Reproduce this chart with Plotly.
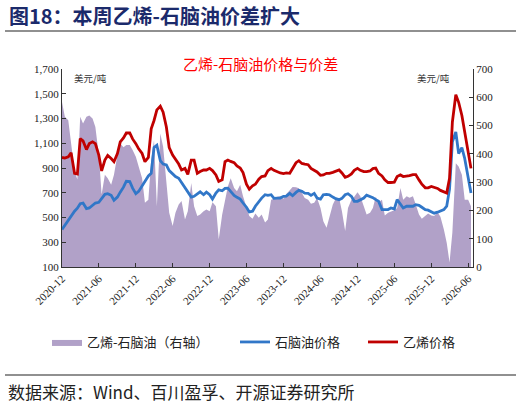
import pandas as pd
import plotly.graph_objects as go

# semi-monthly observation dates (1st and 15th of each month)
dates = pd.date_range("2020-12-01", periods=134, freq="SMS")

ethylene = [985, 980, 991, 1023, 857, 852, 1137, 1119, 1049, 1097, 1111, 1097, 1004, 876, 964, 1001,
            977, 951, 1017, 1111, 1143, 1183, 1183, 1135, 1097, 1055, 1017, 951, 985, 1217, 1284, 1370,
            1399, 1351, 1231, 1065, 1004, 969, 932, 884, 897, 849, 964, 964, 857, 871, 884, 884,
            897, 879, 844, 791, 804, 951, 964, 953, 943, 916, 900, 863, 769, 729, 756, 769,
            809, 831, 836, 879, 897, 881, 868, 860, 855, 860, 857, 892, 943, 959, 937, 932,
            927, 897, 881, 868, 841, 844, 857, 857, 865, 876, 884, 860, 825, 833, 852, 881,
            897, 881, 871, 871, 876, 895, 900, 857, 836, 804, 783, 783, 785, 831, 844, 831,
            833, 839, 847, 847, 804, 769, 740, 740, 751, 745, 735, 719, 705, 697, 817, 1271,
            1492, 1431, 1324, 1191, 1044, 897]

naphtha = [404, 439, 476, 511, 551, 575, 612, 617, 572, 577, 596, 617, 623, 649, 687, 692,
           679, 639, 665, 705, 745, 793, 791, 737, 692, 711, 756, 799, 836, 857, 1065, 1084,
           959, 932, 924, 879, 852, 831, 817, 783, 751, 716, 665, 671, 689, 708, 684, 705,
           684, 649, 697, 724, 716, 735, 737, 708, 679, 663, 649, 617, 583, 545, 551, 591,
           633, 657, 684, 679, 684, 655, 657, 657, 671, 673, 695, 676, 703, 719, 711, 697,
           695, 679, 695, 657, 649, 684, 687, 684, 665, 652, 644, 655, 684, 692, 671, 631,
           631, 644, 657, 681, 671, 660, 644, 631, 564, 564, 564, 577, 569, 644, 604, 577,
           591, 591, 591, 604, 599, 583, 564, 559, 545, 535, 543, 551, 564, 591, 729, 1111,
           1191, 1017, 1065, 977, 833, 697]

spread = [583, 531, 519, 431, 338, 309, 531, 507, 531, 536, 525, 495, 396, 256, 326, 314,
          291, 326, 396, 437, 423, 431, 431, 414, 390, 355, 314, 227, 238, 379, 449, 215,
          472, 425, 297, 192, 145, 192, 221, 233, 168, 197, 297, 215, 180, 186, 197, 203,
          197, 229, 215, 98, 186, 238, 285, 314, 279, 268, 291, 250, 215, 180, 171, 189,
          174, 186, 157, 168, 238, 241, 248, 250, 241, 258, 271, 283, 282, 278, 262, 244,
          238, 224, 227, 244, 209, 162, 139, 180, 221, 241, 244, 197, 127, 209, 238, 248,
          264, 250, 215, 186, 192, 209, 248, 229, 238, 182, 192, 197, 201, 209, 279, 238,
          250, 245, 250, 221, 186, 171, 180, 189, 182, 180, 194, 178, 133, 86, 16, 122,
          367, 355, 326, 238, 238, 215]

left_ticks = [100, 300, 500, 700, 900, 1100, 1300, 1500, 1700]
right_ticks = [0, 100, 200, 300, 400, 500, 600, 700]

SERIF = "Liberation Serif"
CJK = "Noto Sans CJK SC"

fig = go.Figure()
fig.add_trace(go.Scatter(x=dates, y=spread, name="乙烯-石脑油（右轴）", mode="lines",
                         fill="tozeroy", fillcolor="#B1A1C8", line=dict(width=0, color="#B1A1C8"),
                         yaxis="y", legend="legend"))
fig.add_trace(go.Scatter(x=dates, y=naphtha, name="石脑油价格", mode="lines",
                         line=dict(color="#3177C8", width=2.8), yaxis="y2", legend="legend2"))
fig.add_trace(go.Scatter(x=dates, y=ethylene, name="乙烯价格", mode="lines",
                         line=dict(color="#C00000", width=2.8), yaxis="y2", legend="legend3"))

L, R, T, B = 62, 48, 69, 138
W, H = 521, 405
pw, ph = W - L - R, H - T - B


def px(x):
    return (x - L) / pw


def py(y):
    return (H - B - y) / ph


axis_common = dict(showgrid=False, zeroline=False, showline=True, linecolor="#333333", linewidth=1,
                   ticks="inside", ticklen=4, tickcolor="#333333",
                   tickfont=dict(family=SERIF, size=11, color="#222222"))

leg_font = dict(family=CJK, size=13, color="#222222")

fig.update_layout(
    width=W, height=H,
    margin=dict(l=L, r=R, t=T, b=B, autoexpand=False),
    paper_bgcolor="white", plot_bgcolor="white",
    xaxis=dict(type="date", range=["2020-12-01", "2026-06-25"], tick0="2020-12-01", dtick="M6",
               tickformat="%Y-%m", tickangle=-45, **axis_common),
    yaxis=dict(side="right", range=[0, 700], tickvals=right_ticks, ticktext=[str(v) for v in right_ticks],
               **axis_common),
    yaxis2=dict(side="left", overlaying="y", range=[100, 1700], tickvals=left_ticks,
                ticktext=[f"{v:,}" for v in left_ticks], **axis_common),
    legend=dict(x=px(47), y=py(327), xanchor="left", yanchor="top", font=leg_font,
                bgcolor="rgba(0,0,0,0)"),
    legend2=dict(x=px(235), y=py(327), xanchor="left", yanchor="top", font=leg_font,
                 bgcolor="rgba(0,0,0,0)"),
    legend3=dict(x=px(363), y=py(327), xanchor="left", yanchor="top", font=leg_font,
                 bgcolor="rgba(0,0,0,0)"),
    showlegend=True,
)

annos = [
    dict(text="<b>图18：本周乙烯-石脑油价差扩大</b>", x=px(7), y=py(16), xanchor="left", yanchor="middle",
         font=dict(family=CJK, size=20, color="#1B2A6B")),
    dict(text="乙烯-石脑油价格与价差", x=px(260), y=py(64), xanchor="center", yanchor="middle",
         font=dict(family=CJK, size=15, color="#FF0000")),
    dict(text="美元/吨", x=px(72), y=py(78), xanchor="left", yanchor="middle",
         font=dict(family=CJK, size=9.5, color="#333333")),
    dict(text="美元/吨", x=px(415), y=py(78), xanchor="left", yanchor="middle",
         font=dict(family=CJK, size=9.5, color="#333333")),
    dict(text="数据来源：Wind、百川盈孚、开源证券研究所", x=px(6), y=py(391), xanchor="left", yanchor="middle",
         font=dict(family=CJK, size=17, color="#222222")),
]
for a in annos:
    fig.add_annotation(xref="paper", yref="paper", showarrow=False, **a)

fig.add_shape(type="line", xref="paper", yref="paper", x0=px(5), x1=px(516), y0=py(31), y1=py(31),
              line=dict(color="#222222", width=1.2))
fig.add_shape(type="line", xref="paper", yref="paper", x0=px(5), x1=px(516), y0=py(375), y1=py(375),
              line=dict(color="#222222", width=1.2))

fig.write_html("out.html")
